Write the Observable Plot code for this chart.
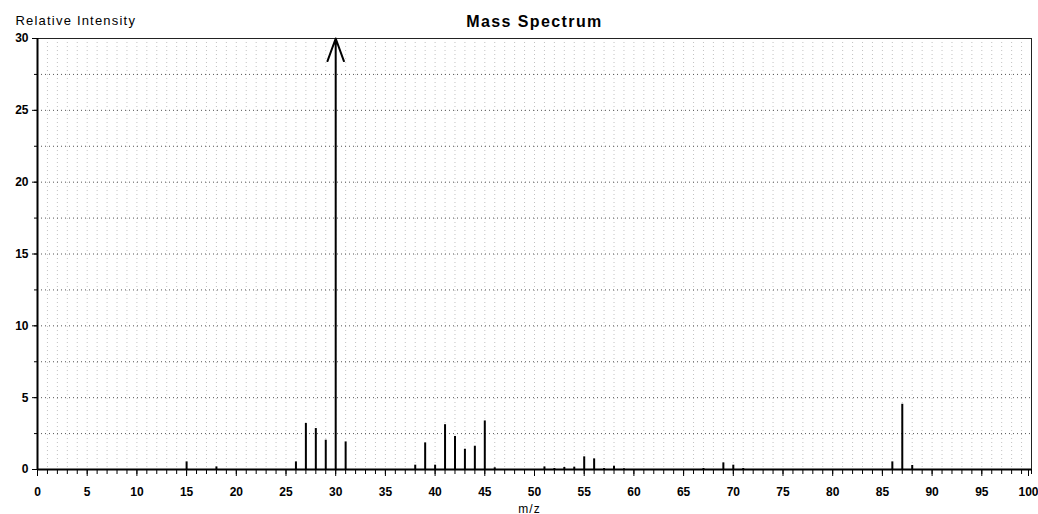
<!DOCTYPE html>
<html>
<head>
<meta charset="utf-8">
<script src="https://cdn.jsdelivr.net/npm/d3@7"></script>
<script src="https://cdn.jsdelivr.net/npm/@observablehq/plot@0.6"></script>
<style>
  body { margin: 0; background: #fff; }
  svg { display: block; }
</style>
</head>
<body>
<div id="chart"></div>
<script>
// m/z values and relative intensities (base peak at 30 exceeds the axis)
const mz = [15, 18, 26, 27, 28, 29, 30, 31, 38, 39, 40, 41, 42, 43, 44, 45, 46,
            51, 52, 53, 54, 55, 56, 57, 58, 59, 67, 69, 70, 71, 86, 87, 88];
const intensity = [0.53, 0.18, 0.53, 3.2, 2.85, 2.04, 100, 1.92, 0.3, 1.85, 0.3, 3.12, 2.3, 1.41, 1.62, 3.38, 0.12,
                   0.18, 0.07, 0.14, 0.16, 0.88, 0.74, 0.07, 0.23, 0.05, 0.07, 0.46, 0.3, 0.07, 0.53, 4.54, 0.28];
const xMax = 100;
const yMax = 30;
const xMajorTicks = d3.range(0, 96, 5);
const xLastTick = [100];
const xMinorTicks = d3.range(0, 101, 1);
const yMajorTicks = d3.range(0, 31, 5);
const yMinorTicks = d3.range(0, 30.1, 2.5);
const title = "Mass Spectrum";
const yTitle = "Relative Intensity";
const xTitle = "m/z";

const peaks = mz.map((m, i) => ({mz: m, value: intensity[i]}));
const clipped = peaks.filter(d => d.value > yMax);

const font = "Liberation Sans, Arial, sans-serif";

const chart = Plot.plot({
  width: 1038,
  height: 514,
  marginLeft: 37,
  marginRight: 7,
  marginTop: 38,
  marginBottom: 45,
  style: {fontFamily: font, fontSize: "12px", color: "#000", background: "#fff"},
  x: {domain: [0, xMax], label: null},
  y: {domain: [0, yMax], label: null},
  marks: [
    // dotted grid
    Plot.gridX(xMinorTicks, {stroke: "#999", strokeOpacity: 0.6, strokeDasharray: "1,3"}),
    Plot.gridY(yMinorTicks, {stroke: "#444", strokeOpacity: 0.9, strokeDasharray: "1,3"}),
    Plot.frame({stroke: "#222", strokeWidth: 1}),
    // axes
    Plot.axisX(xMinorTicks, {tickSize: 5, tickFormat: () => "", label: null, stroke: "#000"}),
    Plot.axisX(xMajorTicks, {tickSize: 7, tickPadding: 11, fontWeight: "bold", fontSize: 12, label: null, stroke: "#000"}),
    Plot.axisX(xLastTick, {tickSize: 7, tickPadding: 11, fontWeight: "bold", fontSize: 12, label: null, stroke: "#000", dx: -3}),
    Plot.axisY(yMinorTicks, {tickSize: 3, tickFormat: () => "", label: null, stroke: "#000"}),
    Plot.axisY(yMajorTicks, {tickSize: 5, tickPadding: 4, fontWeight: "bold", fontSize: 12, label: null, stroke: "#000"}),
    Plot.ruleY([0], {stroke: "#000", strokeWidth: 2}),
    Plot.ruleX([0], {stroke: "#000", strokeWidth: 2}),
    // peaks
    Plot.ruleX(peaks.filter(d => d.value <= yMax), {x: "mz", y1: 0, y2: "value", stroke: "#000", strokeWidth: 2}),
    Plot.arrow(clipped, {x: "mz", y1: 0, y2: () => yMax, stroke: "#000", strokeWidth: 2, headAngle: 40, headLength: 18, insetEnd: 0}),
    // titles
    Plot.text([title], {frameAnchor: "top", dy: -23, fontWeight: "bold", fontSize: 16, text: d => d}),
    Plot.text([yTitle], {frameAnchor: "top-left", dx: -22, dy: -23, fontSize: 13, textAnchor: "start", text: d => d}),
    Plot.text([xTitle], {frameAnchor: "bottom", dx: -5, dy: 43, fontSize: 12, text: d => d})
  ]
});
// widen the scanned-looking titles a little
d3.select(chart).selectAll("text").each(function () {
  const t = this.textContent;
  if (t === title) this.setAttribute("letter-spacing", "1.4");
  if (t === yTitle) this.setAttribute("letter-spacing", "1.2");
  if (t === xTitle) this.setAttribute("letter-spacing", "1");
});
document.getElementById("chart").appendChild(chart);
</script>
</body>
</html>
